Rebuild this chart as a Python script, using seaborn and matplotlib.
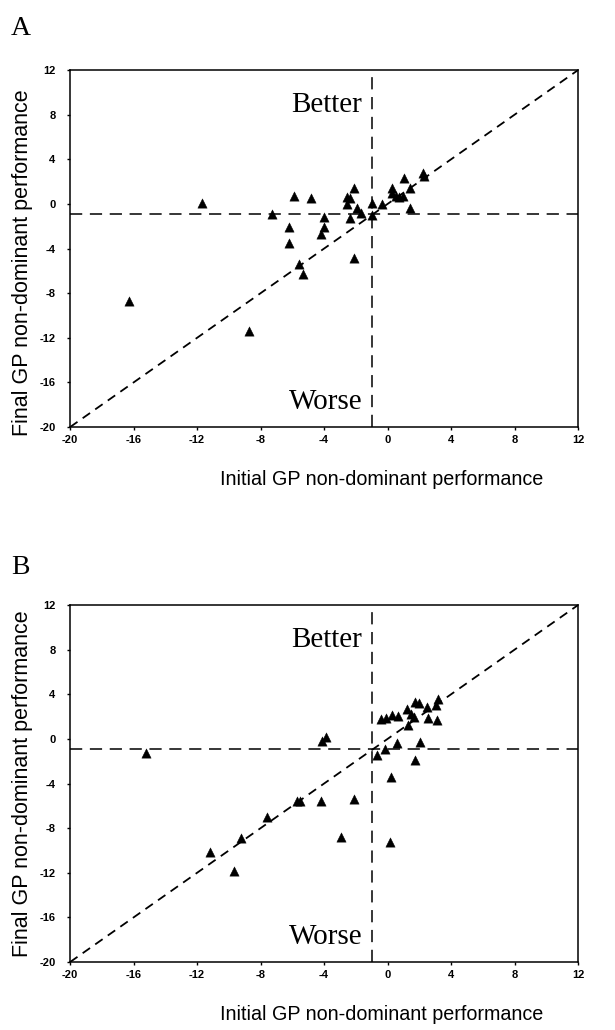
import numpy as np
import pandas as pd
import seaborn as sns
import matplotlib.pyplot as plt

sns.set_style("white")
plt.rcParams['font.family'] = ['Liberation Sans', 'DejaVu Sans']
plt.rcParams['axes.unicode_minus'] = False
for key in ['text.color', 'axes.labelcolor', 'xtick.color', 'ytick.color']:
    plt.rcParams[key] = 'black'

# panel A: initial vs final GP non-dominant performance
a_initial = [-16.3, -11.7, -8.7, -7.3, -5.9, -4.85, -6.2, -6.2, -5.6, -5.3,
             -4.0, -4.0, -4.2, -2.55, -2.55, -2.4, -2.1, -2.4, -1.95, -1.7,
             -2.1, -1.0, -1.0, -0.35, 0.25, 0.3, 0.5, 0.7, 1.0, 1.05,
             1.4, 1.4, 2.25, 2.3]
a_final = [-8.7, 0.1, -11.4, -0.9, 0.75, 0.5, -2.05, -3.5, -5.35, -6.25,
           -1.15, -2.05, -2.7, 0.6, -0.05, 0.55, 1.4, -1.25, -0.35, -0.85,
           -4.85, 0.1, -1.0, 0.0, 1.45, 0.95, 0.7, 0.65, 0.7, 2.35,
           1.4, -0.35, 2.75, 2.5]

# panel B
b_initial = [-15.2, -11.2, -9.7, -9.25, -7.6, -5.7, -5.5, -4.2, -4.15, -3.85,
             -2.95, -2.1, -0.65, -0.15, 0.2, 0.15, 0.6, 1.7, 2.05, -0.4,
             -0.1, 0.25, 0.65, 1.3, 1.2, 1.45, 1.65, 1.7, 1.95, 2.5,
             2.55, 3.05, 3.2, 3.1]
b_final = [-1.3, -10.1, -11.85, -8.85, -7.0, -5.6, -5.6, -5.6, -0.2, 0.2,
           -8.75, -5.4, -1.4, -0.9, -3.45, -9.2, -0.4, -1.9, -0.25, 1.8,
           1.9, 2.15, 2.05, 1.25, 2.7, 2.2, 2.0, 3.35, 3.2, 2.85,
           1.85, 3.0, 3.6, 1.65]

ticks = [-20, -16, -12, -8, -4, 0, 4, 8, 12]
cut_x = -1
cut_y = -0.9

fig = plt.figure(figsize=(6.15, 10.3), dpi=100)

# name, x, y, axes bottom, panel letter y, ylabel centre
panels = [
    ("A", a_initial, a_final, 0.5854, 0.972, 0.46),
    ("B", b_initial, b_final, 0.066, 0.449, 0.5),
]

for name, xs, ys, bottom, label_y, ylab_y in panels:
    ax = fig.add_axes([0.114, bottom, 0.826, 0.3466])
    df = pd.DataFrame({"initial": xs, "final": ys})
    sns.scatterplot(data=df, x="initial", y="final", marker="^", color="black",
                    s=45, edgecolor="black", linewidth=0.3, ax=ax, zorder=3)

    ax.plot([-20, 12], [-20, 12], color="black", lw=1.3, ls=(0, (5, 3.5)), zorder=2)
    ax.axhline(cut_y, color="black", lw=1.1, ls=(0, (8, 5)), zorder=2)
    ax.axvline(cut_x, color="black", lw=1.1, ls=(0, (8, 5)), zorder=2)

    ax.set_xlim(-20, 12)
    ax.set_ylim(-20, 12)
    ax.set_xticks(ticks)
    ax.set_yticks(ticks)
    ax.tick_params(direction="out", length=2.5, width=1, labelsize=8,
                   left=True, bottom=True)
    ax.tick_params(axis="y", pad=8)
    ax.tick_params(axis="x", pad=3)
    for lab in ax.get_xticklabels() + ax.get_yticklabels():
        lab.set_fontweight("bold")
    for sp in ax.spines.values():
        sp.set_linewidth(1.1)
        sp.set_color("black")

    ax.set_xlabel("Initial GP non-dominant performance", fontsize=14.2, va="center")
    ax.xaxis.set_label_coords(0.614, -0.148)
    ax.set_ylabel("Final GP non-dominant performance", fontsize=15.5, va="center")
    ax.yaxis.set_label_coords(-0.094, ylab_y)

    ax.text(-1.6, 8.9, "Better", family="Liberation Serif", fontsize=21,
            ha="right", va="center")
    ax.text(-1.6, -17.8, "Worse", family="Liberation Serif", fontsize=21,
            ha="right", va="center")

    fig.text(0.018, label_y, name, family="Liberation Serif", fontsize=20,
             ha="left", va="center")

fig.savefig("out.png", dpi=100, facecolor="white")
